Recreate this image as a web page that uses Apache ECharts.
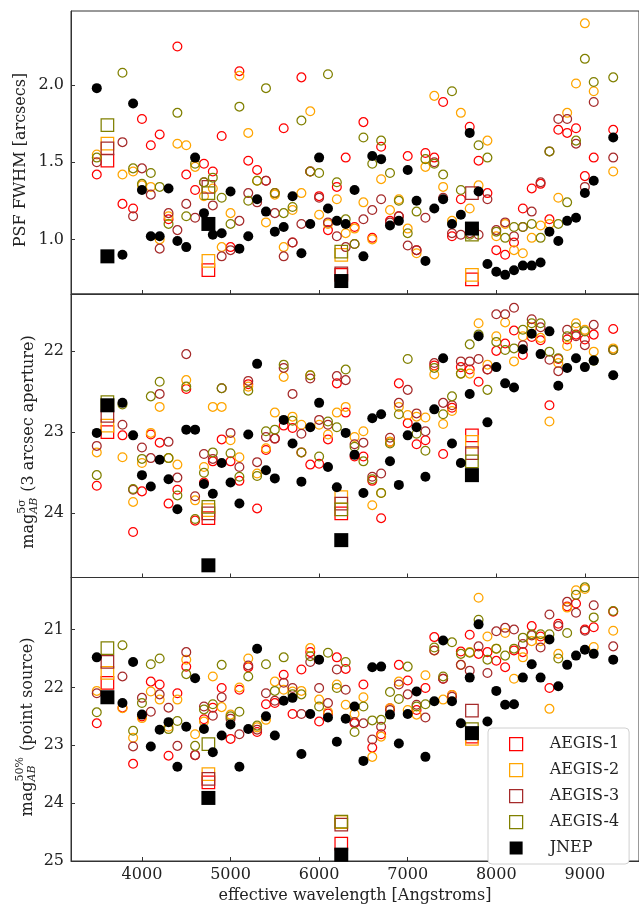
<!DOCTYPE html>
<html>
<head>
<meta charset="utf-8">
<script src="https://cdn.jsdelivr.net/npm/echarts@6/dist/echarts.min.js"></script>
<style>
  html, body { margin: 0; padding: 0; background: #fff; }
  #chart { width: 639px; height: 908px; }
</style>
</head>
<body>
<div id="chart"></div>
<script>
// effective wavelengths of the narrow/medium bands (circles) and broad bands (squares)
var wlNarrow = [3490, 3780, 3900, 4000, 4100, 4200, 4300, 4400, 4500, 4600, 4700, 4800, 4900, 5000,
    5100, 5200, 5300, 5400, 5500, 5600, 5700, 5800, 5900, 6000, 6100, 6200, 6300, 6400, 6500, 6600,
    6700, 6800, 6900, 7000, 7100, 7200, 7300, 7400, 7500, 7600, 7700, 7800, 7900, 8000, 8100, 8200,
    8300, 8400, 8500, 8600, 8700, 8800, 8900, 9000, 9100, 9320];
var wlBroad = [3610, 4750, 6250, 7725];

var surveys = ['AEGIS-1', 'AEGIS-2', 'AEGIS-3', 'AEGIS-4', 'JNEP'];
var colors = ['#ff0000', '#ffa500', '#a52a2a', '#808000', '#000000'];
var xTicks = [4000, 5000, 6000, 7000, 8000, 9000];

// PSF FWHM [arcsec]
var fwhmA1 = [1.42,1.23,1.20,1.78,1.61,1.68,1.13,2.25,1.42,1.32,1.49,1.44,1.67,0.95,2.09,1.51,1.45,1.38,1.30,1.72,0.98,2.05,1.44,1.28,1.06,1.34,1.53,1.08,1.76,1.01,1.60,1.12,1.15,1.54,0.93,1.56,1.53,1.89,1.02,1.26,1.73,1.51,1.30,0.93,0.90,0.98,1.20,1.33,1.36,1.13,1.71,1.69,1.72,1.41,1.53,1.71];
var fwhmA2 = [1.55,1.42,1.44,1.35,1.34,1.00,1.15,1.62,1.61,1.47,1.28,1.33,0.95,1.17,2.06,1.69,1.38,1.11,1.29,0.95,1.19,1.30,1.83,1.16,1.10,1.26,1.04,1.07,1.24,1.00,1.39,1.19,1.26,1.07,0.91,1.47,1.93,1.34,1.12,1.82,1.20,1.35,1.64,1.02,1.10,0.93,0.91,1.01,1.09,1.10,1.27,1.82,2.01,2.40,1.96,1.44];
var fwhmA3 = [1.50,1.63,1.15,1.46,1.29,0.94,1.17,1.06,1.23,1.14,1.37,1.22,0.89,0.93,1.12,1.30,1.24,1.38,1.17,0.89,0.98,1.10,1.44,1.27,1.11,1.02,0.95,0.97,1.13,1.19,1.26,1.11,1.15,0.96,0.93,1.14,1.50,1.27,1.04,1.03,1.04,1.03,1.26,1.06,1.11,1.02,1.08,1.18,1.37,1.57,1.78,1.78,1.62,1.34,1.89,1.53];
var fwhmA4 = [1.53,2.08,1.46,1.36,1.43,1.34,1.10,1.82,1.15,1.49,1.37,1.40,1.27,1.10,1.86,1.25,1.38,1.98,1.30,1.17,1.21,1.77,1.44,1.43,2.07,1.37,1.13,0.97,1.66,1.49,1.64,1.43,1.25,1.04,1.18,1.52,1.49,1.42,1.96,1.32,1.03,1.61,1.53,1.05,1.01,1.08,1.08,1.10,1.01,1.57,1.10,1.24,1.64,2.17,2.02,2.05];
var fwhmJN = [1.98,0.90,1.88,1.32,1.02,1.02,1.33,0.99,0.95,1.53,1.17,1.03,1.04,1.31,0.94,1.02,1.26,1.18,1.05,1.08,1.28,0.91,1.10,1.53,1.20,1.12,1.10,1.32,0.89,1.54,1.52,1.09,1.12,1.45,1.25,0.86,1.20,1.26,1.10,1.16,1.69,1.31,0.84,0.79,0.77,0.80,0.83,0.83,0.85,1.05,0.99,1.12,1.14,1.30,1.38,1.66];
var fwhmBroadA1 = [1.51, 0.80, 0.77, 0.74];
var fwhmBroadA2 = [1.62, 0.86, 0.90, 0.77];
var fwhmBroadA3 = [1.59, 1.34, 0.78, 1.30];
var fwhmBroadA4 = [1.74, 1.30, 0.92, 1.03];
var fwhmBroadJN = [0.89, 1.10, 0.73, 1.07];

// 5 sigma depth, 3 arcsec aperture
var m5A1 = [23.66,23.04,24.23,23.73,23.03,23.13,23.88,23.71,22.47,24.09,23.62,23.36,23.09,23.36,23.60,22.41,23.94,23.22,23.08,22.92,22.95,23.25,23.40,23.39,23.09,22.40,22.76,23.30,23.30,23.60,24.06,23.12,22.40,22.89,23.15,23.10,22.18,23.27,22.70,22.20,22.23,22.38,22.23,22.00,21.91,21.75,22.05,21.83,21.87,22.67,22.10,21.86,21.80,21.86,21.80,21.73];
var m5A2 = [23.25,23.31,23.86,23.38,23.01,22.69,23.32,23.40,22.36,23.84,23.43,22.69,22.69,23.10,23.31,22.44,23.51,23.20,22.76,22.32,22.81,22.91,22.30,22.91,23.03,22.76,22.69,23.06,22.99,23.90,23.75,23.12,22.69,22.79,22.81,22.82,22.29,22.90,22.74,22.28,22.28,21.66,22.17,21.82,21.65,22.13,21.82,21.71,21.84,22.87,22.15,21.94,21.66,21.74,22.01,21.97];
var m5A3 = [23.17,22.91,23.71,23.19,23.32,22.53,23.12,23.56,22.04,23.79,23.27,23.33,22.46,23.01,23.43,22.37,23.37,23.06,23.08,22.21,22.53,23.02,22.34,22.85,22.91,22.31,22.36,23.15,23.13,23.55,23.51,23.07,22.64,22.48,22.77,22.99,22.15,22.64,22.67,22.13,22.13,22.10,22.23,21.55,21.55,21.47,21.93,21.61,21.71,22.11,22.25,21.74,21.82,21.93,21.68,21.99];
var m5A4 = [23.53,22.66,23.70,23.33,22.56,22.38,23.32,23.78,22.44,24.07,23.50,23.25,22.46,23.26,23.55,22.49,23.54,22.99,22.97,22.17,22.86,23.25,22.30,23.30,22.87,22.94,22.23,23.18,23.36,23.58,23.75,23.14,22.78,22.10,23.02,23.23,22.21,22.78,22.56,22.28,21.92,21.80,22.48,21.89,21.99,21.97,21.74,21.66,21.66,22.01,22.09,21.82,21.71,21.76,22.12,21.99];
var m5JN = [23.01,22.64,23.04,23.53,23.67,23.34,23.58,23.95,22.97,22.97,23.64,23.76,23.38,23.62,23.88,23.03,22.16,23.47,23.57,22.85,23.14,23.61,22.94,22.64,23.43,23.68,23.01,23.28,23.75,22.83,22.78,23.36,23.65,23.04,22.94,23.55,22.72,22.09,23.14,23.38,22.53,21.82,22.88,22.20,22.40,22.45,21.98,21.79,22.04,21.76,22.43,22.21,22.09,22.20,22.12,22.30];
var m5BroadA1 = [23.00, 24.06, 24.00, 23.04];
var m5BroadA2 = [22.92, 23.96, 23.80, 23.12];
var m5BroadA3 = [22.80, 24.00, 23.88, 23.26];
var m5BroadA4 = [22.63, 23.92, 23.95, 23.36];
var m5BroadJN = [22.67, 24.64, 24.33, 23.53];

// 50% completeness, point sources
var m50A1 = [22.62,22.35,23.32,22.50,21.90,21.95,23.18,22.10,21.64,23.17,22.55,22.35,22.01,22.89,22.04,21.65,22.77,22.29,22.27,21.78,22.46,21.69,21.39,22.59,22.45,21.48,21.68,22.62,21.95,23.04,22.81,22.36,21.61,21.88,22.39,22.01,21.13,21.85,22.13,21.38,21.09,21.42,21.39,21.54,21.65,21.36,21.39,20.94,21.12,22.01,20.90,20.60,20.55,21.00,20.96,20.69];
var m50A2 = [22.06,22.36,22.87,22.53,22.07,22.21,22.68,22.21,21.52,22.81,22.59,21.81,22.34,22.47,22.00,21.50,22.69,22.56,21.90,22.04,22.07,22.06,21.32,22.21,22.42,21.95,22.30,22.46,22.17,23.20,22.85,22.36,21.90,22.39,22.47,21.79,21.36,22.21,22.13,21.61,21.39,20.45,21.12,21.33,21.06,21.85,21.48,21.20,21.20,22.37,21.42,20.62,20.32,20.30,21.30,21.02];
var m50A3 = [22.10,21.81,23.02,22.18,22.42,22.12,22.35,23.01,21.39,23.17,22.33,22.49,22.17,22.54,22.81,21.62,22.73,22.10,22.23,21.92,22.01,22.46,21.56,22.01,22.27,21.69,22.04,22.60,22.62,22.90,22.68,22.39,21.95,22.12,22.30,22.52,21.36,21.85,22.16,21.61,21.71,21.29,21.75,21.03,20.97,21.00,21.25,21.10,21.31,20.74,20.94,20.52,20.71,21.02,20.58,21.29];
var m50A4 = [22.43,21.27,22.75,22.27,21.60,21.50,22.72,22.58,21.77,23.01,22.38,22.29,21.61,22.50,22.42,21.81,22.66,21.60,22.06,21.48,22.12,22.12,21.46,22.33,21.40,22.01,21.56,22.77,22.33,22.57,22.56,22.08,22.20,21.64,22.33,22.29,21.31,21.81,21.22,21.42,21.40,20.83,21.52,21.33,21.45,21.33,21.14,21.08,21.08,21.08,21.50,21.06,20.40,20.27,20.79,20.68];
var m50JN = [21.48,22.27,21.56,22.47,23.02,22.73,22.60,23.37,22.68,21.84,22.72,23.12,22.83,22.64,23.37,22.72,21.33,22.50,22.83,22.23,22.18,23.15,22.46,21.52,22.52,22.94,22.54,22.33,23.27,21.65,21.64,22.47,22.97,22.46,22.07,23.20,22.24,21.19,22.24,22.62,21.83,20.91,22.59,22.06,22.30,22.29,21.83,21.60,21.83,21.17,21.98,21.61,21.45,21.35,21.42,21.52];
var m50BroadA1 = [21.92, 23.64, 24.70, 22.85];
var m50BroadA2 = [21.75, 23.50, 24.33, 22.89];
var m50BroadA3 = [21.56, 23.58, 24.37, 22.40];
var m50BroadA4 = [21.32, 22.98, 24.32, 22.72];
var m50BroadJN = [22.17, 23.91, 24.89, 22.79];

var panels = [
    { narrow: [fwhmA1, fwhmA2, fwhmA3, fwhmA4, fwhmJN], broad: [fwhmBroadA1, fwhmBroadA2, fwhmBroadA3, fwhmBroadA4, fwhmBroadJN] },
    { narrow: [m5A1, m5A2, m5A3, m5A4, m5JN], broad: [m5BroadA1, m5BroadA2, m5BroadA3, m5BroadA4, m5BroadJN] },
    { narrow: [m50A1, m50A2, m50A3, m50A4, m50JN], broad: [m50BroadA1, m50BroadA2, m50BroadA3, m50BroadA4, m50BroadJN] }
];

var FONT = '"DejaVu Serif", serif';
var TXT = '#222';
var myChart = echarts.init(document.getElementById('chart'), null, { renderer: 'canvas' });

function pairs(xs, ys) {
    return xs.map(function (x, i) { return [x, ys[i]]; });
}

// text measuring for the y labels with sub/superscripts
var mctx = document.createElement('canvas').getContext('2d');
function tw(t, font) { mctx.font = font; return mctx.measureText(t).width; }

function magLabel(cx, cy, sup, rest) {
    var fMain = '16px ' + FONT, fSup = '11px ' + FONT, fSub = 'italic 11px ' + FONT;
    var w1 = tw('mag', fMain);
    var ws = Math.max(tw(sup, fSup), tw('AB', fSub)) + 1;
    var wr = tw(rest, fMain);
    var x0 = -(w1 + ws + wr) / 2;
    return {
        type: 'group', x: cx, y: cy, rotation: Math.PI / 2, silent: true,
        children: [
            { type: 'text', style: { text: 'mag', x: x0, y: 0, font: fMain, fill: TXT, verticalAlign: 'middle' } },
            { type: 'text', style: { text: sup, x: x0 + w1, y: -7, font: fSup, fill: TXT, verticalAlign: 'middle' } },
            { type: 'text', style: { text: 'AB', x: x0 + w1, y: 5, font: fSub, fill: TXT, verticalAlign: 'middle' } },
            { type: 'text', style: { text: rest, x: x0 + w1 + ws, y: 0, font: fMain, fill: TXT, verticalAlign: 'middle' } }
        ]
    };
}

var grids = [
    { left: 71, right: -3, top: 11, height: 283 },
    { left: 71, right: -3, top: 294, height: 283.5 },
    { left: 71, right: -3, top: 577.5, height: 283.5 }
];
grids.forEach(function (g) {
    g.show = true;
    g.borderColor = '#333';
    g.borderWidth = 1;
    g.backgroundColor = 'transparent';
});

var yRanges = [
    { min: 0.646, max: 2.48, ticks: [1.0, 1.5, 2.0], inverse: false, fmt: function (v) { return v.toFixed(1); } },
    { min: 21.3, max: 24.79, ticks: [22, 23, 24], inverse: true, fmt: function (v) { return String(v); } },
    { min: 20.1, max: 25.0, ticks: [21, 22, 23, 24, 25], inverse: true, fmt: function (v) { return String(v); } }
];

var xAxes = [0, 1, 2].map(function (i) {
    return {
        type: 'value', gridIndex: i, min: 3199, max: 9611,
        axisLine: { show: true, lineStyle: { color: '#333', width: 1 } },
        axisTick: { show: true, inside: true, length: 4, customValues: xTicks, lineStyle: { color: '#333' } },
        axisLabel: {
            show: i === 2, customValues: xTicks, margin: 6,
            formatter: function (v) { return String(v); },
            fontFamily: FONT, fontSize: 16, color: TXT
        },
        splitLine: { show: false },
        name: i === 2 ? 'effective wavelength [Angstroms]' : '',
        nameLocation: 'middle', nameGap: 27,
        nameTextStyle: { fontFamily: FONT, fontSize: 16, color: TXT }
    };
});

var yAxes = yRanges.map(function (r, i) {
    return {
        type: 'value', gridIndex: i, min: r.min, max: r.max, inverse: r.inverse,
        axisLine: { show: true, lineStyle: { color: '#333', width: 1 } },
        axisTick: { show: true, inside: true, length: 4, customValues: r.ticks, lineStyle: { color: '#333' } },
        axisLabel: { customValues: r.ticks, formatter: r.fmt, margin: 7, fontFamily: FONT, fontSize: 16, color: TXT },
        splitLine: { show: false }
    };
});

var series = [];
panels.forEach(function (p, pi) {
    surveys.forEach(function (name, si) {
        var isJ = si === 4;
        var style = isJ ? { color: '#000', opacity: 1 }
            : { color: 'rgba(0,0,0,0)', borderColor: colors[si], borderWidth: 1.25, opacity: 1 };
        series.push({
            name: name + ' narrow',
            type: 'scatter', xAxisIndex: pi, yAxisIndex: pi,
            symbol: 'circle', symbolSize: isJ ? 10 : 8.8,
            itemStyle: style,
            data: pairs(wlNarrow, p.narrow[si]),
            silent: true
        });
        series.push({
            name: name,
            type: 'scatter', xAxisIndex: pi, yAxisIndex: pi,
            symbol: 'rect', symbolSize: isJ ? 14 : 12.5,
            itemStyle: style,
            data: pairs(wlBroad, p.broad[si]),
            silent: true
        });
    });
});

var legendData = surveys.map(function (name, si) {
    return {
        name: name,
        itemStyle: si === 4 ? { color: '#000', borderWidth: 0, opacity: 1 }
            : { color: 'rgba(0,0,0,0)', borderColor: colors[si], borderWidth: 1.25, opacity: 1 }
    };
});

var option = {
    animation: false,
    backgroundColor: '#fff',
    grid: grids,
    xAxis: xAxes,
    yAxis: yAxes,
    legend: {
        data: legendData,
        orient: 'vertical',
        left: 488, top: 728,
        icon: 'rect',
        itemWidth: 13, itemHeight: 13, itemGap: 10,
        padding: [8, 10, 8, 21],
        backgroundColor: '#fff',
        borderColor: '#d0d0d0', borderWidth: 1, borderRadius: 4,
        selectedMode: false,
        textStyle: { fontFamily: FONT, fontSize: 16, color: TXT, lineHeight: 13, padding: [0, 0, 0, 22] }
    },
    graphic: [
        {
            type: 'text', x: 21, y: 160, rotation: Math.PI / 2, silent: true,
            style: { text: 'PSF FWHM [arcsecs]', font: '16px ' + FONT, fill: TXT, align: 'center', verticalAlign: 'middle' }
        },
        magLabel(29, 442, '5\u03c3', ' (3 arcsec aperture)'),
        magLabel(27.5, 727, '50%', ' (point source)')
    ],
    series: series
};

myChart.setOption(option, true);
</script>
</body>
</html>
